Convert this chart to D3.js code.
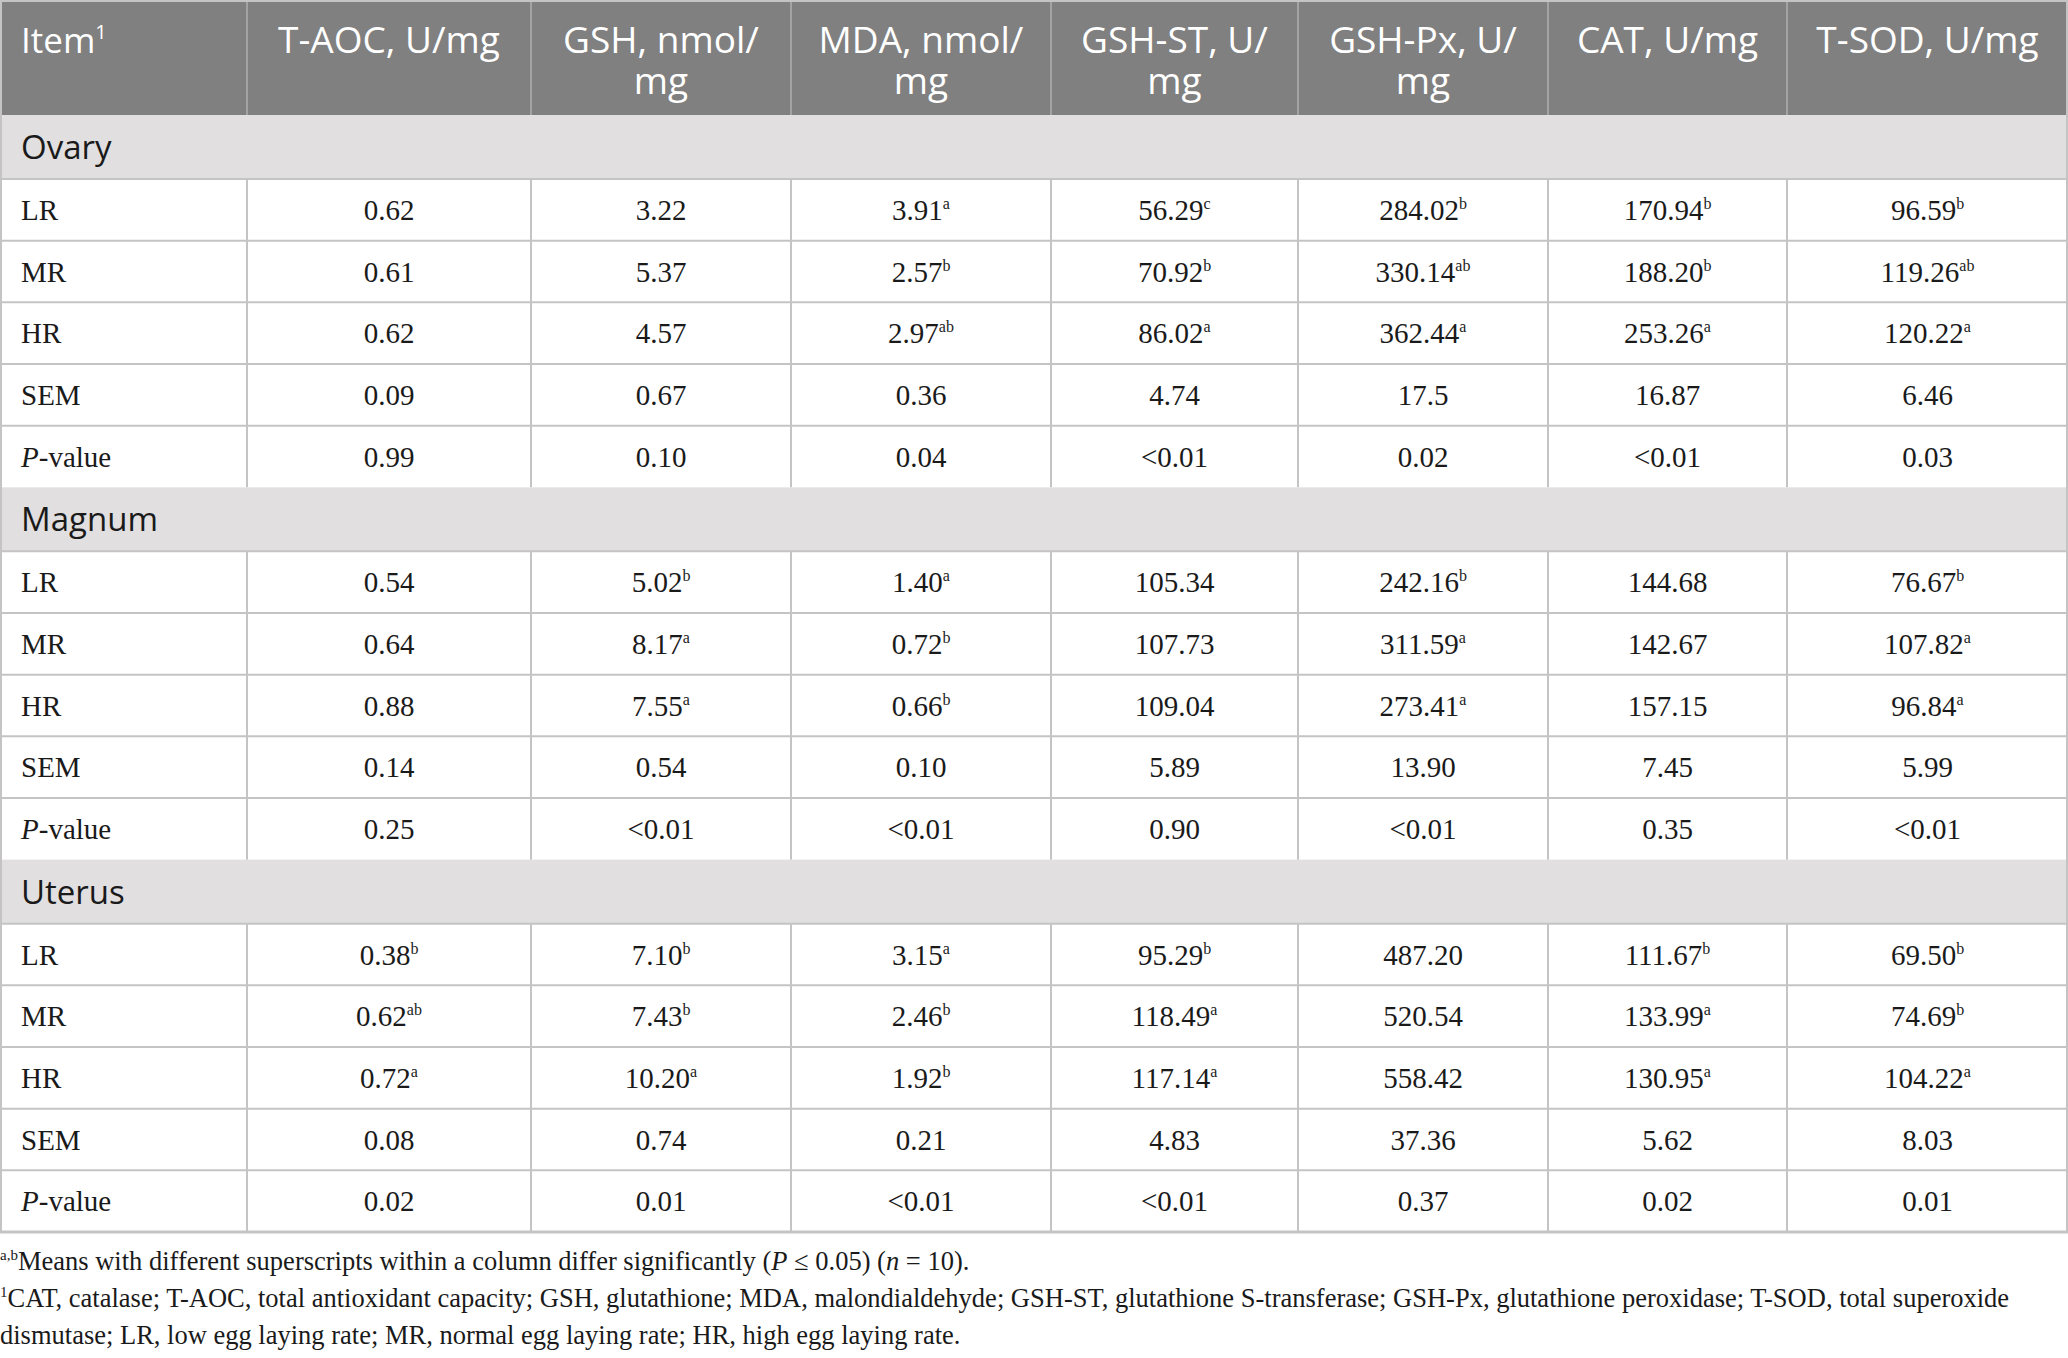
<!DOCTYPE html>
<html>
<head>
<meta charset="utf-8">
<script src="https://d3js.org/d3.v7.min.js"></script>
<style>
body { margin: 0; background: #fff; }
.sans { font-family: 'Open Sans', 'Noto Sans', sans-serif; }
.serif { font-family: 'Liberation Serif', 'DejaVu Serif', serif; }
</style>
</head>
<body>
<div id="chart"></div>
<script>
// ---- data ----
const headers = [
  ["T-AOC, U/mg"], ["GSH, nmol/", "mg"], ["MDA, nmol/", "mg"],
  ["GSH-ST, U/", "mg"], ["GSH-Px, U/", "mg"], ["CAT, U/mg"], ["T-SOD, U/mg"]
];
const sections = ["Ovary", "Magnum", "Uterus"];
const rowLabels = ["LR", "MR", "HR", "SEM", "P-value"];

// value^superscript
const ovary = [
  ["0.62", "3.22", "3.91^a", "56.29^c", "284.02^b", "170.94^b", "96.59^b"],
  ["0.61", "5.37", "2.57^b", "70.92^b", "330.14^ab", "188.20^b", "119.26^ab"],
  ["0.62", "4.57", "2.97^ab", "86.02^a", "362.44^a", "253.26^a", "120.22^a"],
  ["0.09", "0.67", "0.36", "4.74", "17.5", "16.87", "6.46"],
  ["0.99", "0.10", "0.04", "<0.01", "0.02", "<0.01", "0.03"]
];
const magnum = [
  ["0.54", "5.02^b", "1.40^a", "105.34", "242.16^b", "144.68", "76.67^b"],
  ["0.64", "8.17^a", "0.72^b", "107.73", "311.59^a", "142.67", "107.82^a"],
  ["0.88", "7.55^a", "0.66^b", "109.04", "273.41^a", "157.15", "96.84^a"],
  ["0.14", "0.54", "0.10", "5.89", "13.90", "7.45", "5.99"],
  ["0.25", "<0.01", "<0.01", "0.90", "<0.01", "0.35", "<0.01"]
];
const uterus = [
  ["0.38^b", "7.10^b", "3.15^a", "95.29^b", "487.20", "111.67^b", "69.50^b"],
  ["0.62^ab", "7.43^b", "2.46^b", "118.49^a", "520.54", "133.99^a", "74.69^b"],
  ["0.72^a", "10.20^a", "1.92^b", "117.14^a", "558.42", "130.95^a", "104.22^a"],
  ["0.08", "0.74", "0.21", "4.83", "37.36", "5.62", "8.03"],
  ["0.02", "0.01", "<0.01", "<0.01", "0.37", "0.02", "0.01"]
];
const sectionValues = [ovary, magnum, uterus];

// footnote parts: [text, style] style: s = superscript, i = italic
const notes = [
  [["a,b", "s"], ["Means with different superscripts within a column differ significantly ("], ["P", "i"], [" ≤ 0.05) ("], ["n", "i"], [" = 10)."]],
  [["1", "s"], ["CAT, catalase; T-AOC, total antioxidant capacity; GSH, glutathione; MDA, malondialdehyde; GSH-ST, glutathione S-transferase; GSH-Px, glutathione peroxidase; T-SOD, total superoxide"]],
  [["dismutase; LR, low egg laying rate; MR, normal egg laying rate; HR, high egg laying rate."]]
];

// ---- layout ----
const width = 2068, height = 1358;
const colKeys = ["item"].concat(d3.range(headers.length));
const colEdges = [0, 247, 531, 791, 1051, 1298, 1548, 1787, 2068];
const headH = 115, secH = 64, tableBottom = 1232;
const lineColor = "#c4c4c4";

const svg = d3.select("#chart").append("svg")
    .attr("width", width)
    .attr("height", height);

const xLeft = d3.scaleOrdinal().domain(colKeys).range(colEdges.slice(0, -1));
const xRight = d3.scaleOrdinal().domain(colKeys).range(colEdges.slice(1));
const xMid = k => (xLeft(k) + xRight(k)) / 2;

const ySec = d3.scaleBand().domain(sections).range([headH, tableBottom]);
const yRow = d3.scaleBand().domain(d3.range(rowLabels.length)).range([secH, ySec.bandwidth()]);

// header
svg.append("rect")
    .attr("x", 0).attr("y", 0)
    .attr("width", width).attr("height", headH)
    .attr("fill", "#808080");

svg.selectAll(".hsep")
    .data(colKeys.slice(1))
    .enter().append("line")
    .attr("x1", d => xLeft(d)).attr("x2", d => xLeft(d))
    .attr("y1", 0).attr("y2", headH)
    .attr("stroke", "#a3a3a3")
    .attr("stroke-width", 2);

const item = svg.append("text")
    .attr("class", "sans")
    .attr("x", 21).attr("y", 53)
    .attr("fill", "#fff")
    .attr("font-size", 35);
item.append("tspan").text("Item");
item.append("tspan").attr("font-size", 20).attr("dy", -14).text("1");

// one text per header line
headers.forEach((lines, i) => {
  svg.selectAll(".head" + i)
      .data(lines)
      .enter().append("text")
      .attr("class", "sans head" + i)
      .attr("x", xMid(i))
      .attr("y", (d, j) => 53 + j * 41)
      .attr("text-anchor", "middle")
      .attr("fill", "#fff")
      .attr("font-size", 37)
      .attr("textLength", d => d === "GSH, nmol/" || d === "MDA, nmol/" ? null : null)
      .text(d => d);
});

// sections
sections.forEach((sec, si) => {
  const g = svg.append("g").attr("transform", `translate(0,${ySec(sec)})`);

  g.append("rect")
      .attr("x", 0).attr("y", 0)
      .attr("width", width).attr("height", secH)
      .attr("fill", "#e1dfdf");

  g.append("text")
      .attr("class", "sans")
      .attr("x", 21).attr("y", secH / 2)
      .attr("dy", "0.36em")
      .attr("fill", "#1a1a1a")
      .attr("font-size", 33)
      .text(sec);

  const rows = g.selectAll(".row")
      .data(sectionValues[si])
      .enter().append("g")
      .attr("class", "row")
      .attr("transform", (d, i) => `translate(0,${yRow(i)})`);

  // row labels
  rows.append("text")
      .attr("class", "serif")
      .attr("x", 21).attr("y", yRow.bandwidth() / 2)
      .attr("dy", "0.35em")
      .attr("fill", "#1a1a1a")
      .attr("font-size", 29)
      .each(function (d, i) {
        const t = d3.select(this);
        if (rowLabels[i] === "P-value") {
          t.append("tspan").attr("font-style", "italic").text("P");
          t.append("tspan").text("-value");
        } else {
          t.text(rowLabels[i]);
        }
      });

  // cells
  rows.selectAll(".cell")
      .data(d => d.map((v, j) => ({ v: v, col: j })))
      .enter().append("text")
      .attr("class", "serif cell")
      .attr("x", d => xMid(d.col))
      .attr("y", yRow.bandwidth() / 2)
      .attr("dy", "0.35em")
      .attr("text-anchor", "middle")
      .attr("fill", "#1a1a1a")
      .attr("font-size", 29)
      .each(function (d) {
        const parts = d.v.split("^");
        const t = d3.select(this);
        t.append("tspan").text(parts[0]);
        if (parts[1]) {
          t.append("tspan").attr("font-size", 16).attr("dy", -11).text(parts[1]);
        }
      });

  // vertical lines in data rows
  g.selectAll(".vline")
      .data(colKeys.slice(1))
      .enter().append("line")
      .attr("x1", d => xLeft(d)).attr("x2", d => xLeft(d))
      .attr("y1", secH).attr("y2", ySec.bandwidth())
      .attr("stroke", lineColor)
      .attr("stroke-width", 2);

  // horizontal lines
  g.selectAll(".hline")
      .data(d3.range(rowLabels.length))
      .enter().append("line")
      .attr("x1", 0).attr("x2", width)
      .attr("y1", d => yRow(d)).attr("y2", d => yRow(d))
      .attr("stroke", lineColor)
      .attr("stroke-width", 2);
});

// outer lines
svg.append("line")
    .attr("x1", 0).attr("x2", width)
    .attr("y1", tableBottom).attr("y2", tableBottom)
    .attr("stroke", lineColor).attr("stroke-width", 3);
svg.append("rect")
    .attr("x", 1).attr("y", 1)
    .attr("width", width - 2).attr("height", tableBottom - 1)
    .attr("fill", "none")
    .attr("stroke", lineColor)
    .attr("stroke-width", 2);

// footnotes
notes.forEach((parts, i) => {
  const t = svg.append("text")
      .attr("class", "serif")
      .attr("x", 0)
      .attr("y", 1270 + i * 37)
      .attr("fill", "#1a1a1a")
      .attr("font-size", 26.5);
  let raised = false;
  parts.forEach(p => {
    const s = t.append("tspan").text(p[0]);
    if (p[1] === "s") {
      s.attr("font-size", 15).attr("dy", -10);
      raised = true;
    } else {
      if (p[1] === "i") s.attr("font-style", "italic");
      if (raised) { s.attr("dy", 10); raised = false; }
    }
  });
});
</script>
</body>
</html>
